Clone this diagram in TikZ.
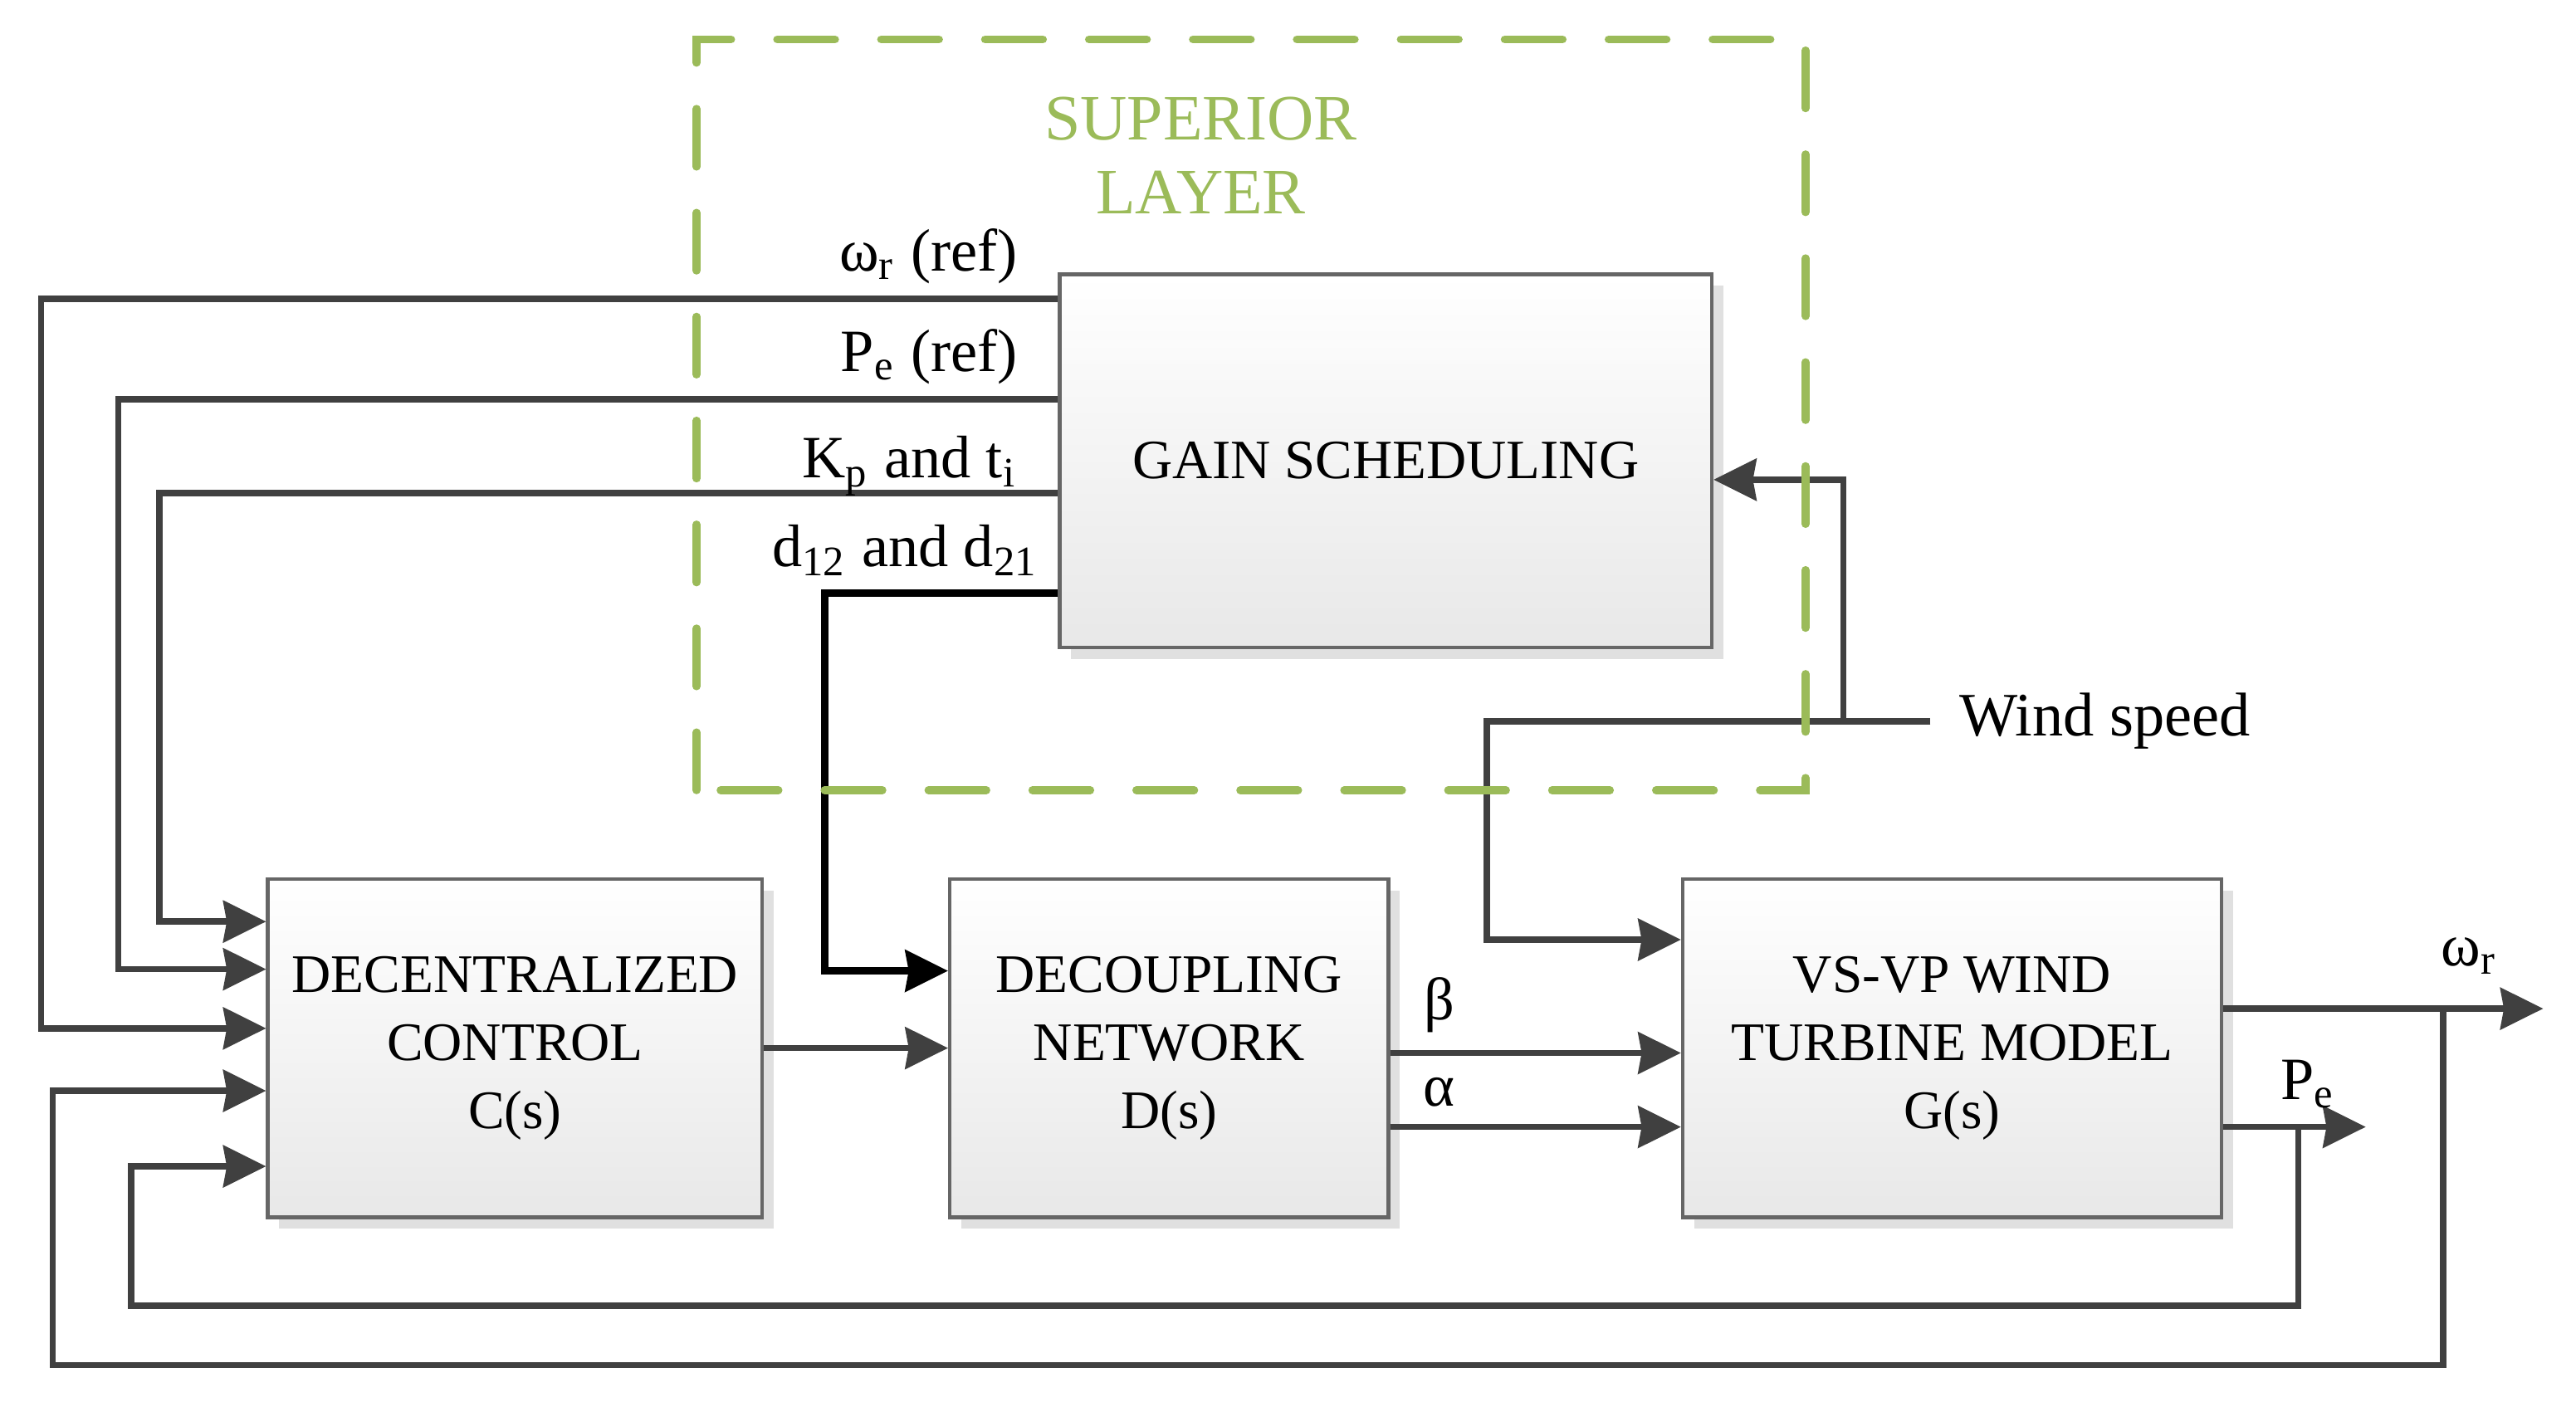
\documentclass[tikz,border=0pt]{standalone}
\usepackage{fontspec}
\setmainfont{Liberation Serif}
\usepackage{tikz}
\usetikzlibrary{arrows.meta, positioning, shadows}
\definecolor{layergreen}{RGB}{155,187,89}

\begin{document}
\begin{tikzpicture}[
    every node/.append style = {font=\fontsize{9.4}{11.8}\selectfont},
    block/.style = {draw=black!60, line width=0.6pt, top color=white, bottom color=black!9,
      inner sep=0pt, align=center, minimum height=2.06cm,
      drop shadow={shadow xshift=0.7mm, shadow yshift=-0.7mm, fill=black!12, opacity=1}},
    signal/.style = {draw=black!75, line width=1.1pt, -{Stealth[length=7.4pt,width=7.2pt,inset=0.6pt]}},
    sigtext/.style = {inner sep=0pt, font=\fontsize{10.4}{12}\selectfont},
    layerbox/.style = {draw=layergreen, line width=1.4pt, line cap=round, dash pattern=on 10pt off 8pt}
  ]
  \useasboundingbox (0,0) rectangle (15.68,8.56);

  % blocks
  \node[block, minimum width=3.01cm] (dec) at (3.135,2.18) {DECENTRALIZED\\CONTROL\\C(s)};
  \node[block, minimum width=2.67cm, right=1.12cm of dec] (dcp) {DECOUPLING\\NETWORK\\D(s)};
  \node[block, minimum width=3.28cm, right=1.77cm of dcp] (tur) {VS-VP WIND\\TURBINE MODEL\\G(s)};
  \node[block, minimum width=3.97cm, minimum height=2.27cm, font=\fontsize{9.6}{11.8}\selectfont]
    (gain) at (8.435,5.755) {GAIN SCHEDULING};

  % wind speed
  \node[sigtext, anchor=west, inner xsep=1.7mm, font=\fontsize{10.7}{12}\selectfont]
    (wind) at (11.75,4.17) {Wind speed};
  \coordinate (wsplit) at (11.22,4.17);
  \draw[signal] (wind.west) -| (9.05,2.84) -- (tur.west |- 9.05,2.84);
  \draw[signal] (wsplit) |- (gain.east |- 11.22,5.64);

  % references from the superior layer
  \draw[signal] (gain.west |- 0,6.74) -| (0.25,2.30) -- (dec.west |- 0,2.30);
  \draw[signal] (gain.west |- 0,6.13) -| (0.72,2.66) -- (dec.west |- 0,2.66);
  \draw[signal] (gain.west |- 0,5.56) -| (0.97,2.95) -- (dec.west |- 0,2.95);
  \draw[signal, draw=black, line width=1.2pt] (gain.west |- 0,4.95) -| (5.02,2.65) -- (dcp.west |- 0,2.65);

  \node[sigtext, anchor=base east] (lwref) at (6.20,6.91) {ω\textsubscript{r} (ref)};
  \node[sigtext, anchor=base east] (lpref) at (6.20,6.30) {P\textsubscript{e} (ref)};
  \node[sigtext, anchor=base east] (lkp) at (6.20,5.65) {K\textsubscript{p} and t\textsubscript{i}};
  \node[sigtext, anchor=base east] (ldd) at (6.33,5.11) {d\textsubscript{12} and d\textsubscript{21}};

  % forward path
  \draw[signal] (dec) -- (dcp);
  \draw[signal] (dcp.east |- 0,2.15) -- (tur.west |- 0,2.15);
  \draw[signal] (dcp.east |- 0,1.70) -- (tur.west |- 0,1.70);
  \node[sigtext] (lbeta) at (8.76,2.44) {β};
  \node[sigtext] (lalpha) at (8.76,1.91) {α};

  % outputs and feedback
  \coordinate (wout) at (15.48,2.42);
  \coordinate (pout) at (14.40,1.70);
  \coordinate (wtap) at (14.87,2.42);
  \coordinate (ptap) at (13.99,1.70);
  \draw[signal] (tur.east |- wout) -- (wout);
  \draw[signal] (tur.east |- pout) -- (pout);
  \draw[signal] (wtap) |- (0.32,0.25) |- (dec.west |- 0,1.92);
  \draw[signal] (ptap) |- (0.80,0.61) |- (dec.west |- 0,1.46);
  \node[sigtext] (lwout) at (15.03,2.74) {ω\textsubscript{r}};
  \node[sigtext] (lpout) at (14.05,1.96) {P\textsubscript{e}};

  % superior layer
  \draw[layerbox] (4.24,3.75) rectangle (10.99,8.32);
  \node[text=layergreen, align=center, font=\fontsize{11.2}{12.8}\selectfont]
    (sup) at (7.31,7.615) {SUPERIOR\\LAYER};
\end{tikzpicture}
\end{document}
